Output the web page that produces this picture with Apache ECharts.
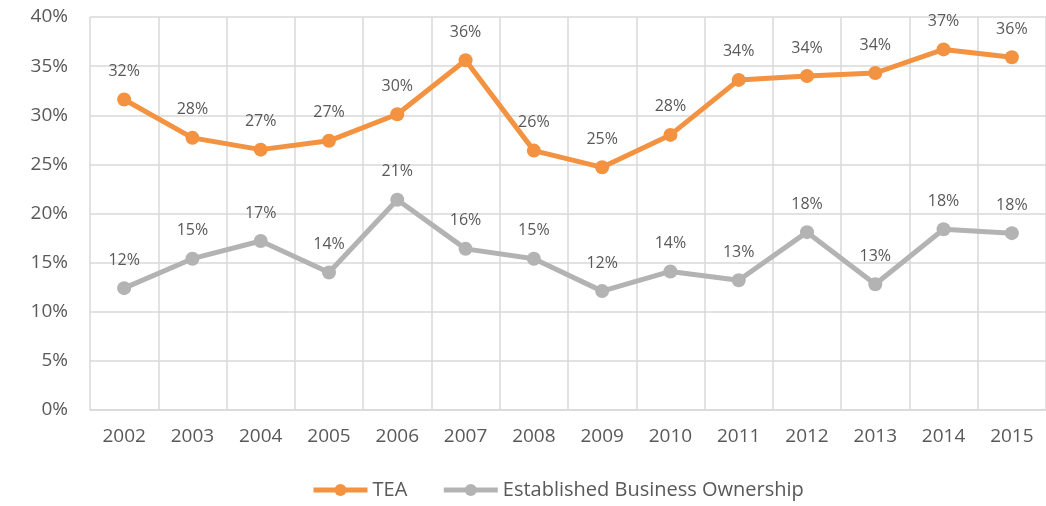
<!DOCTYPE html>
<html>
<head>
<meta charset="utf-8">
<script src="https://cdn.jsdelivr.net/npm/echarts@6/dist/echarts.min.js"></script>
<style>
  html, body { margin: 0; padding: 0; background: #fff; }
  #chart { width: 1046px; height: 506px; }
</style>
</head>
<body>
<div id="chart"></div>
<script>
// years on the x axis
const years = ['2002', '2003', '2004', '2005', '2006', '2007', '2008', '2009',
  '2010', '2011', '2012', '2013', '2014', '2015']
// TEA, percent
const tea = [31.6, 27.7, 26.5, 27.4, 30.1, 35.6, 26.4, 24.7, 28.0, 33.6, 34.0, 34.3, 36.7, 35.9]
// established business ownership, percent
const ebo = [12.4, 15.4, 17.2, 14.0, 21.4, 16.4, 15.4, 12.1, 14.1, 13.2, 18.1, 12.8, 18.4, 18.0]

const textColor = '#595959'
const font = 'Open Sans'

const chart = echarts.init(document.getElementById('chart'))

function lineSeries (name, data, color) {
  return {
    name: name,
    type: 'line',
    data: data,
    symbol: 'circle',
    symbolSize: 14,
    lineStyle: { width: 5, color: color },
    itemStyle: { color: color },
    label: {
      show: true,
      position: 'top',
      distance: 13,
      color: textColor,
      fontFamily: font,
      fontSize: 16,
      formatter: p => Math.round(p.value) + '%'
    },
    animation: false
  }
}

chart.setOption({
  grid: { left: 90, right: -2, top: 17, bottom: 96 },
  legend: {
    bottom: 1,
    left: 306,
    itemWidth: 54,
    itemHeight: 15,
    itemGap: 34,
    lineStyle: { width: 5 },
    textStyle: { color: textColor, fontFamily: font, fontSize: 20 },
    data: ['TEA', 'Established Business Ownership']
  },
  xAxis: {
    type: 'category',
    data: years,
    boundaryGap: true,
    axisLine: { show: true, lineStyle: { color: '#D9D9D9', width: 1.5 } },
    axisTick: { show: false },
    splitLine: { show: true, lineStyle: { color: '#D9D9D9', width: 1.5 } },
    axisLabel: { color: textColor, fontFamily: font, fontSize: 19, margin: 17 }
  },
  yAxis: {
    type: 'value',
    min: 0,
    max: 40,
    interval: 5,
    axisLine: { show: false },
    axisTick: { show: false },
    splitLine: { lineStyle: { color: '#D9D9D9', width: 1.5 } },
    axisLabel: {
      color: textColor,
      fontFamily: font,
      fontSize: 19,
      margin: 22,
      formatter: v => v + '%'
    }
  },
  series: [
    lineSeries('TEA', tea, '#F39240'),
    lineSeries('Established Business Ownership', ebo, '#B3B3B3')
  ]
})
</script>
</body>
</html>
